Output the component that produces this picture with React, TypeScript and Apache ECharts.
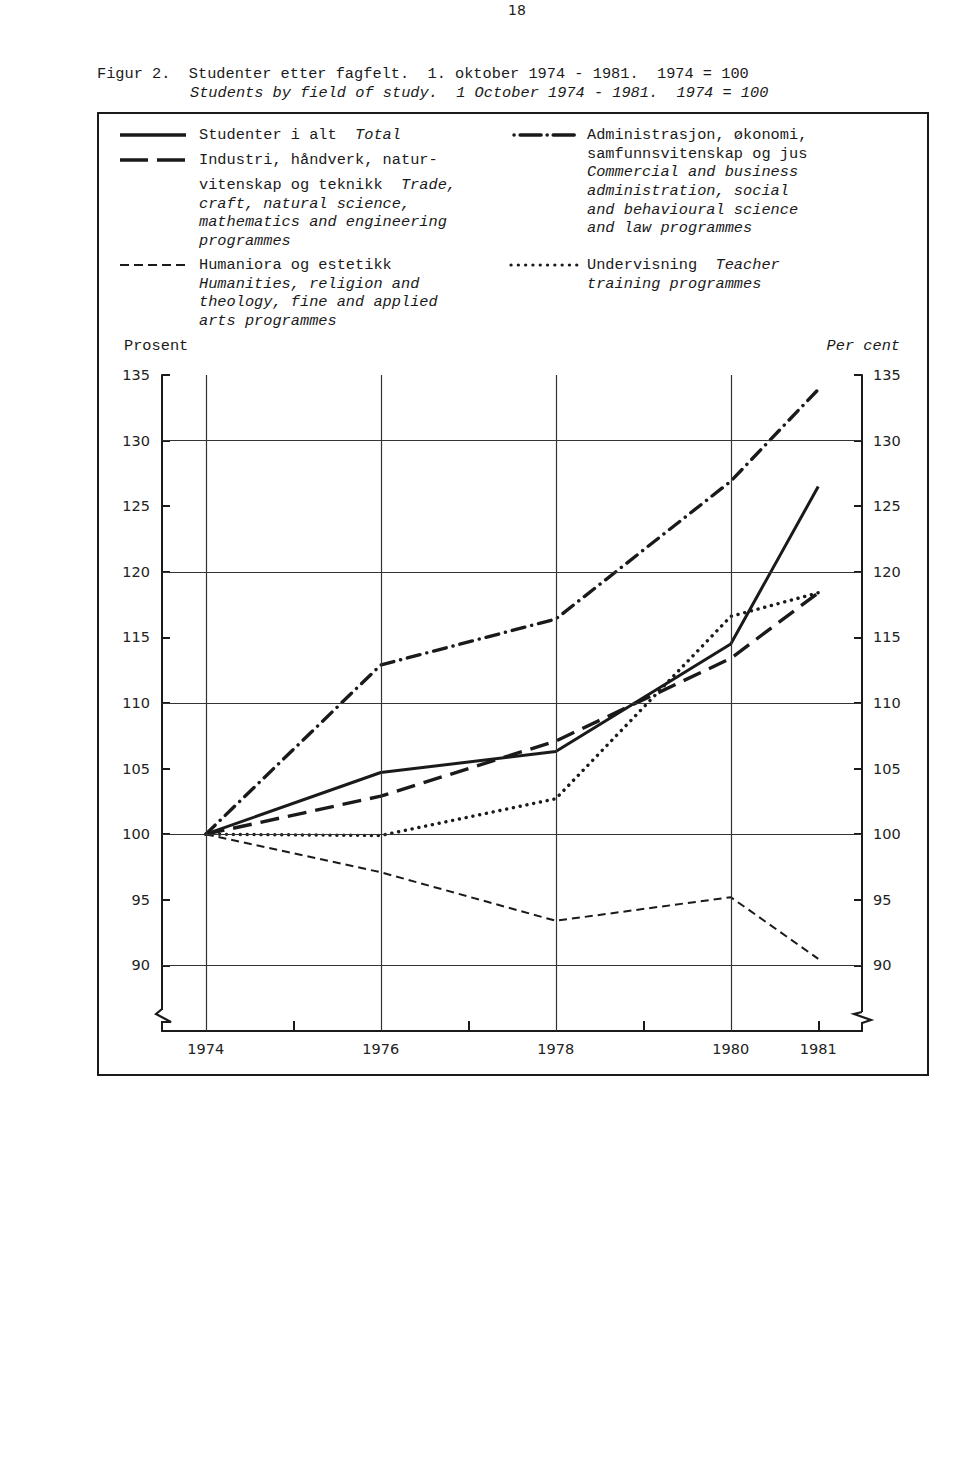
import React, { useEffect, useRef } from "react";
import * as echarts from "echarts";

const years = [1974, 1976, 1978, 1980, 1981];
const total = [100, 104.7, 106.3, 114.5, 126.5];
const industri = [100, 102.9, 107.1, 113.4, 118.4];
const humaniora = [100, 97.1, 93.4, 95.2, 90.5];
const admin = [100, 112.9, 116.4, 126.9, 133.9];
const teacher = [100, 99.9, 102.7, 116.6, 118.4];

const gridYears = [1974, 1976, 1978, 1980];
const gridValues = [90, 100, 110, 120, 130];
const xTickYears = [1975, 1977, 1979, 1981];
const xLabelYears = [1974, 1976, 1978, 1980, 1981];

const MONO = "'Liberation Mono', 'DejaVu Sans Mono', monospace";
const SANS = "'DejaVu Sans', sans-serif";
const INK = "#1a1a1a";

const GL = 162, GT = 375, GW = 700, GH = 656;
const GR = GL + GW, GB = GT + GH;

const pts = (vals: number[]) => years.map((y, i) => [y, vals[i]]);

const rich = {
  n: { fontFamily: MONO, fontSize: 15.3, fill: INK },
  i: { fontFamily: MONO, fontSize: 15.3, fill: INK, fontStyle: "italic" },
};

function txt(x: number, y: number, text: string, extra: any = {}) {
  return {
    type: "text",
    x,
    y,
    silent: true,
    style: {
      text,
      rich,
      fontFamily: MONO,
      fontSize: 15.3,
      fill: INK,
      verticalAlign: "middle",
      align: "left",
      ...extra,
    },
  };
}

function sample(x1: number, x2: number, y: number, dash: any, width: number, cap = "butt") {
  return {
    type: "line",
    silent: true,
    shape: { x1, y1: y, x2, y2: y },
    style: { stroke: INK, lineWidth: width, lineDash: dash, lineCap: cap },
  };
}

const lineFont = { fontFamily: SANS, fontSize: 14.5, color: "#222" };

export default function App() {
  const ref = useRef<HTMLDivElement>(null);
  useEffect(() => {
    const chart = echarts.init(ref.current!, null, { renderer: "svg" });
    const graphic: any[] = [
      { type: "text", x: 517, y: 10, silent: true, style: { text: "18", fontFamily: SANS, fontSize: 14, fill: "#222", align: "center", verticalAlign: "middle" } },
      txt(97, 74, "Figur 2.  Studenter etter fagfelt.  1. oktober 1974 - 1981.  1974 = 100"),
      txt(190, 93, "{i|Students by field of study.  1 October 1974 - 1981.  1974 = 100}"),
      { type: "rect", silent: true, shape: { x: 98, y: 113, width: 830, height: 962 }, style: { fill: "none", stroke: INK, lineWidth: 2 } },
      // left legend column
      sample(120, 186, 135, null, 3.5),
      txt(199, 135, "{n|Studenter i alt}  {i|Total}"),
      sample(120, 186, 160, [28, 9], 3.5),
      txt(199, 160, "Industri, håndverk, natur-"),
      txt(199, 185, "{n|vitenskap og teknikk}  {i|Trade,}"),
      txt(199, 204, "{i|craft, natural science,}"),
      txt(199, 222, "{i|mathematics and engineering}"),
      txt(199, 241, "{i|programmes}"),
      sample(120, 186, 265, [9, 5], 2.2),
      txt(199, 265, "Humaniora og estetikk"),
      txt(199, 284, "{i|Humanities, religion and}"),
      txt(199, 302, "{i|theology, fine and applied}"),
      txt(199, 321, "{i|arts programmes}"),
      txt(124, 346, "Prosent"),
      // right legend column
      sample(514, 578, 135, [0.1, 6, 21, 6], 3.5, "round"),
      txt(587, 135, "Administrasjon, økonomi,"),
      txt(587, 154, "samfunnsvitenskap og jus"),
      txt(587, 172, "{i|Commercial and business}"),
      txt(587, 191, "{i|administration, social}"),
      txt(587, 210, "{i|and behavioural science}"),
      txt(587, 228, "{i|and law programmes}"),
      sample(511, 583, 265, [0.1, 7.2], 3.2, "round"),
      txt(587, 265, "{n|Undervisning}  {i|Teacher}"),
      txt(587, 284, "{i|training programmes}"),
      txt(900, 346, "{i|Per cent}", { align: "right" }),
      // axis breaks
      { type: "rect", silent: true, z: 100, shape: { x: GL - 3, y: GB - 21, width: 6, height: 11 }, style: { fill: "#fff" } },
      { type: "polyline", silent: true, z: 101, shape: { points: [[GL, GB - 22], [GL - 6, GB - 17], [GL + 9, GB - 9], [GL, GB - 9]] }, style: { stroke: INK, lineWidth: 2.2, fill: "none" } },
      { type: "rect", silent: true, z: 100, shape: { x: GR - 3, y: GB - 19, width: 6, height: 10 }, style: { fill: "#fff" } },
      { type: "polyline", silent: true, z: 101, shape: { points: [[GR, GB - 19], [GR - 8, GB - 17], [GR + 9, GB - 11], [GR, GB - 8]] }, style: { stroke: INK, lineWidth: 2.2, fill: "none" } },
    ];

    const yAxisBase = {
      type: "value",
      min: 85,
      max: 135,
      interval: 5,
      axisLine: { show: true, lineStyle: { color: INK, width: 2 } },
      axisTick: { show: true, inside: true, length: 8, lineStyle: { color: INK, width: 2 } },
      splitLine: { show: false },
    };

    chart.setOption({
      animation: false,
      backgroundColor: "#fff",
      grid: { left: GL, top: GT, width: GW, height: GH, containLabel: false },
      xAxis: {
        type: "value",
        min: 1973.5,
        max: 1981.5,
        axisLine: { show: true, onZero: false, lineStyle: { color: INK, width: 2 } },
        axisTick: { show: true, inside: true, length: 10, customValues: xTickYears, lineStyle: { color: INK, width: 2 } },
        axisLabel: { show: true, margin: 10, customValues: xLabelYears, formatter: (v: number) => String(v), ...lineFont },
        splitLine: { show: false },
      },
      yAxis: [
        { ...yAxisBase, position: "left", axisLabel: { margin: 12, formatter: (v: number) => (v === 85 ? "" : String(v)), ...lineFont } },
        { ...yAxisBase, position: "right", axisLabel: { margin: 11, formatter: (v: number) => (v === 85 ? "" : String(v)), ...lineFont } },
      ],
      graphic,
      series: [
        {
          name: "grid",
          type: "line",
          data: [[1974, 100]],
          symbol: "none",
          lineStyle: { width: 0 },
          silent: true,
          z: 1,
          markLine: {
            silent: true,
            symbol: "none",
            label: { show: false },
            lineStyle: { color: "#333", width: 1.2, type: "solid" },
            data: [...gridYears.map((x) => ({ xAxis: x })), ...gridValues.map((v) => ({ yAxis: v }))],
          },
        },
        { name: "Humaniora", type: "line", data: pts(humaniora), symbol: "none", z: 3, lineStyle: { color: INK, width: 2, type: [8, 5] } },
        { name: "Undervisning", type: "line", data: pts(teacher), symbol: "none", z: 3, lineStyle: { color: INK, width: 3.4, type: [0.1, 6.8], cap: "round" } },
        { name: "Industri", type: "line", data: pts(industri), symbol: "none", z: 3, lineStyle: { color: INK, width: 3.4, type: [19, 9] } },
        { name: "Administrasjon", type: "line", data: pts(admin), symbol: "none", z: 3, lineStyle: { color: INK, width: 3.4, type: [13, 7, 0.1, 7], cap: "round" } },
        { name: "Total", type: "line", data: pts(total), symbol: "none", z: 4, lineStyle: { color: INK, width: 3 } },
      ],
    });
    return () => chart.dispose();
  }, []);
  return <div ref={ref} style={{ position: "absolute", left: 0, top: 0, width: 960, height: 1460, background: "#fff" }} />;
}
